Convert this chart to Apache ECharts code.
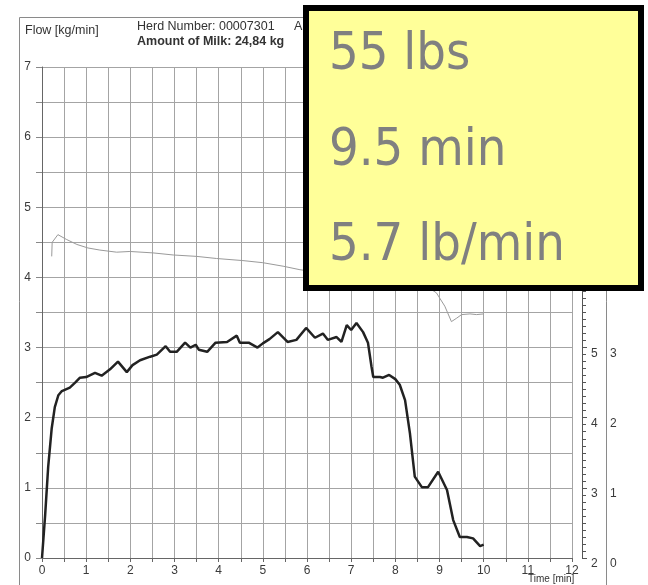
<!DOCTYPE html>
<html>
<head>
<meta charset="utf-8">
<script src="https://cdn.jsdelivr.net/npm/echarts@6/dist/echarts.min.js"></script>
<style>
  html, body { margin: 0; padding: 0; background: #fff; }
  #chart { width: 648px; height: 585px; }
</style>
</head>
<body>
<div id="chart"></div>
<script>
// Milk flow curve (kg/min) over milking time (min)
const flowTime = [0, 0.07, 0.14, 0.22, 0.29, 0.37, 0.45, 0.63, 0.75, 0.86, 1.0, 1.2, 1.35, 1.54, 1.72, 1.92, 2.05, 2.22, 2.45, 2.6, 2.8, 2.9, 3.05, 3.24, 3.36, 3.48, 3.55, 3.74, 3.93, 4.19, 4.41, 4.48, 4.68, 4.88, 5.0, 5.15, 5.34, 5.56, 5.76, 5.98, 6.18, 6.36, 6.47, 6.67, 6.78, 6.9, 7.0, 7.12, 7.27, 7.38, 7.46, 7.5, 7.65, 7.72, 7.86, 8.0, 8.1, 8.22, 8.33, 8.44, 8.6, 8.74, 8.97, 9.17, 9.31, 9.46, 9.62, 9.76, 9.92, 10.0];
const flowValue = [0, 0.6, 1.3, 1.85, 2.15, 2.32, 2.38, 2.43, 2.5, 2.57, 2.58, 2.64, 2.6, 2.69, 2.8, 2.65, 2.75, 2.82, 2.87, 2.9, 3.02, 2.94, 2.94, 3.07, 3.0, 3.04, 2.97, 2.94, 3.07, 3.08, 3.17, 3.07, 3.07, 3.0, 3.06, 3.12, 3.22, 3.08, 3.11, 3.28, 3.14, 3.2, 3.11, 3.15, 3.08, 3.32, 3.25, 3.35, 3.22, 3.07, 2.73, 2.58, 2.58, 2.57, 2.61, 2.55, 2.47, 2.25, 1.78, 1.16, 1.01, 1.01, 1.23, 0.97, 0.54, 0.3, 0.3, 0.28, 0.17, 0.19];

// Thin secondary trace (plotted on the flow scale)
const condTime = [0.22, 0.23, 0.36, 0.56, 0.79, 1.04, 1.31, 1.69, 1.99, 2.51, 2.97, 3.5, 3.95, 4.55, 5.0, 5.46, 5.84, 6.3, 7.0, 8.0, 8.6, 8.93, 9.12, 9.27, 9.39, 9.5, 9.69, 9.84, 10.0];
const condValue = [4.3, 4.5, 4.61, 4.54, 4.47, 4.42, 4.39, 4.36, 4.37, 4.35, 4.32, 4.3, 4.27, 4.24, 4.21, 4.16, 4.11, 4.07, 4.03, 3.98, 3.92, 3.78, 3.59, 3.37, 3.42, 3.47, 3.48, 3.47, 3.48];

// Summary figures shown in the note box
const summaryLines = ['55 lbs', '9.5 min', '5.7 lb/min'];

const headerTexts = {
  yName: 'Flow [kg/min]',
  herd: 'Herd Number: 00007301',
  amount: 'Amount of Milk: 24,84 kg',
  animal: 'Animal',
  xName: 'Time [min]'
};

const intOnly = v => (Math.abs(v - Math.round(v)) < 1e-9 ? String(Math.round(v)) : '');
const labelFont = { color: '#3a3a3a', fontSize: 12, fontFamily: 'Liberation Sans, Arial, sans-serif' };
const gridColor = '#a4a4a4';
const boxFont = '52px "DejaVu Sans Condensed", "DejaVu Sans", sans-serif';

const chart = echarts.init(document.getElementById('chart'), null, { renderer: 'canvas' });

chart.setOption({
  animation: false,
  backgroundColor: '#ffffff',
  grid: { left: 42, right: 76, top: 67, bottom: 27, containLabel: false },
  xAxis: {
    type: 'value', min: 0, max: 12, interval: 0.5,
    axisLine: { show: true, lineStyle: { color: '#666', width: 1 } },
    axisTick: { show: true, length: 4, lineStyle: { color: '#666' } },
    axisLabel: Object.assign({ formatter: intOnly, margin: 7 }, labelFont),
    splitLine: { show: true, lineStyle: { color: gridColor, width: 1 } }
  },
  yAxis: [
    {
      type: 'value', min: 0, max: 7, interval: 0.5, position: 'left',
      axisLine: { show: true, lineStyle: { color: '#666', width: 1 } },
      axisTick: { show: true, length: 6, lineStyle: { color: '#888' } },
      axisLabel: Object.assign({ formatter: intOnly, margin: 11 }, labelFont),
      splitLine: { show: true, lineStyle: { color: gridColor, width: 1 } }
    },
    {
      type: 'value', min: 2, max: 9, interval: 1, position: 'right', offset: 10,
      axisLine: { show: true, lineStyle: { color: '#555', width: 1 } },
      axisTick: { show: true, length: 5, inside: false, lineStyle: { color: '#555' } },
      minorTick: { show: true, splitNumber: 10, length: 4, lineStyle: { color: '#555', width: 1 } },
      axisLabel: Object.assign({ margin: 9, verticalAlign: 'top' }, labelFont),
      splitLine: { show: false }
    },
    {
      type: 'value', min: 0, max: 7, interval: 1, position: 'right', offset: 35,
      axisLine: { show: false },
      axisTick: { show: false },
      axisLabel: Object.assign({ margin: 3, verticalAlign: 'top' }, labelFont),
      splitLine: { show: false }
    }
  ],
  series: [
    {
      name: 'trace',
      type: 'line',
      yAxisIndex: 0,
      data: condTime.map((t, i) => [t, condValue[i]]),
      symbol: 'none',
      lineStyle: { color: '#9a9a9a', width: 1 },
      z: 3
    },
    {
      name: 'flow',
      type: 'line',
      yAxisIndex: 0,
      data: flowTime.map((t, i) => [t, flowValue[i]]),
      symbol: 'none',
      lineStyle: { color: '#222', width: 2.5 },
      z: 4
    }
  ],
  graphic: [
    // outer frame of the printout
    {
      type: 'rect', z: 1, silent: true,
      shape: { x: 19.5, y: 17.5, width: 587, height: 600 },
      style: { fill: 'none', stroke: '#8a8a8a', lineWidth: 1 }
    },
    {
      type: 'text', left: 25, top: 24, z: 5,
      style: { text: headerTexts.yName, fill: '#333', font: '12.5px "Liberation Sans", Arial, sans-serif' }
    },
    {
      type: 'text', left: 137, top: 20, z: 5,
      style: { text: headerTexts.herd, fill: '#333', font: '12.5px "Liberation Sans", Arial, sans-serif' }
    },
    {
      type: 'text', left: 294, top: 20, z: 5,
      style: { text: headerTexts.animal, fill: '#333', font: '12.5px "Liberation Sans", Arial, sans-serif' }
    },
    {
      type: 'text', left: 137, top: 35, z: 5,
      style: { text: headerTexts.amount, fill: '#333', font: 'bold 12.5px "Liberation Sans", Arial, sans-serif' }
    },
    {
      type: 'text', left: 528, top: 574, z: 5,
      style: { text: headerTexts.xName, fill: '#333', font: '10px "Liberation Sans", Arial, sans-serif' }
    },
    // yellow note box
    {
      type: 'group', z: 100,
      children: [
        {
          type: 'rect', z: 100,
          shape: { x: 306, y: 8, width: 335, height: 280 },
          style: { fill: '#ffff99', stroke: '#000', lineWidth: 6 }
        },
        {
          type: 'text', z: 101, x: 329, y: 81,
          style: { text: summaryLines[0], fill: '#808080', font: boxFont, verticalAlign: 'bottom' }
        },
        {
          type: 'text', z: 101, x: 329, y: 177,
          style: { text: summaryLines[1], fill: '#808080', font: boxFont, verticalAlign: 'bottom' }
        },
        {
          type: 'text', z: 101, x: 329, y: 272,
          style: { text: summaryLines[2], fill: '#808080', font: boxFont, verticalAlign: 'bottom' }
        }
      ]
    }
  ]
});
</script>
</body>
</html>
